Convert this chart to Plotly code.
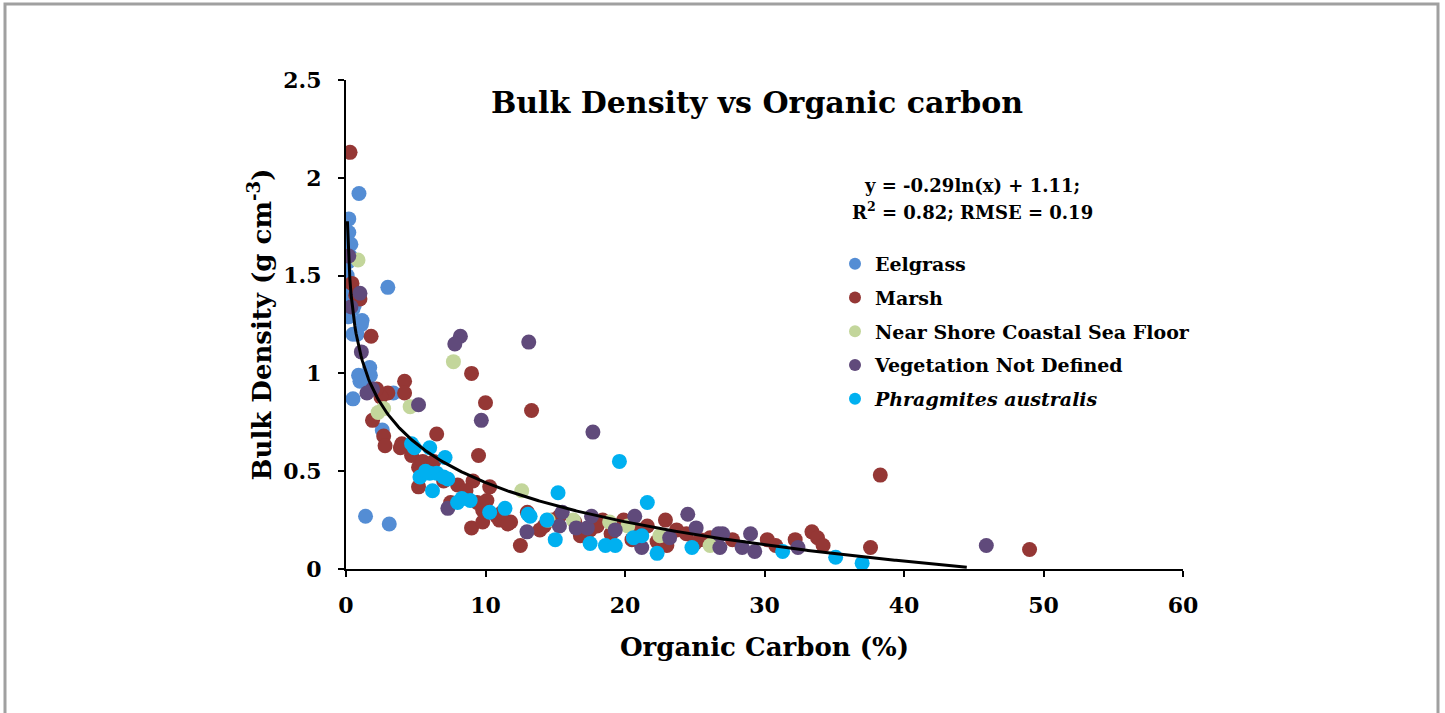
import numpy as np
import plotly.graph_objects as go

# ---------------- data ----------------
eel_x = [0.93, 0.2, 0.2, 0.35, 0.15, 0.08, 0.15, 3.0, 0.2, 1.15, 0.5, 0.8, 0.9, 1.3, 1.7,
         1.75, 0.5, 3.4, 2.6, 1.4, 3.1, 0.3, 0.5, 1.1, 0.3, 1.0, 0.6]
eel_y = [1.92, 1.79, 1.72, 1.66, 1.57, 1.50, 1.44, 1.44, 1.29, 1.27, 1.20, 1.20, 0.99, 0.97, 1.03,
         0.99, 0.87, 0.90, 0.71, 0.27, 0.23, 1.40, 1.33, 1.25, 1.60, 0.96, 1.35]

marsh_x = [0.29, 0.43, 1.0, 1.8, 4.2, 4.2, 3.0, 2.5, 1.9, 2.7, 2.8, 4.0, 4.7, 6.5, 5.2, 5.2,
           9.0, 10.0, 9.5, 9.1, 8.0, 7.5, 9.0, 10.3, 9.8, 10.8, 11.8, 12.5, 13.3, 13.0, 13.9,
           15.3, 16.4, 16.8, 18.4, 19.9, 21.6, 22.9, 23.7, 24.4, 25.4, 26.1, 27.7, 30.2, 30.8,
           32.2, 33.4, 33.8, 34.2, 37.6, 38.3, 49.0, 9.4, 10.1, 11.0, 11.6, 9.8, 8.6, 6.0, 5.5,
           7.0, 11.2, 14.2, 17.5, 19.0, 20.5, 22.3, 23.0, 25.0, 14.8, 18.0, 21.0, 2.2, 0.7,
           6.3, 3.9]
marsh_y = [2.13, 1.46, 1.38, 1.19, 0.96, 0.90, 0.90, 0.88, 0.76, 0.68, 0.63, 0.64, 0.58, 0.69,
           0.52, 0.42, 1.00, 0.85, 0.58, 0.45, 0.43, 0.34, 0.21, 0.42, 0.30, 0.27, 0.24, 0.12,
           0.81, 0.29, 0.20, 0.27, 0.24, 0.17, 0.25, 0.25, 0.22, 0.25, 0.20, 0.18, 0.15, 0.16,
           0.15, 0.15, 0.12, 0.15, 0.19, 0.16, 0.12, 0.11, 0.48, 0.10, 0.34, 0.35, 0.25, 0.23,
           0.24, 0.40, 0.50, 0.55, 0.45, 0.29, 0.22, 0.20, 0.18, 0.15, 0.14, 0.12, 0.13, 0.25,
           0.22, 0.20, 0.92, 1.40, 0.55, 0.62]

shore_x = [0.86, 2.7, 4.6, 7.7, 12.6, 16.3, 18.9, 26.1, 2.3, 14.5, 20.2, 22.5]
shore_y = [1.58, 0.82, 0.83, 1.06, 0.40, 0.25, 0.24, 0.12, 0.80, 0.25, 0.22, 0.17]

veg_x = [0.2, 1.0, 0.35, 1.1, 1.9, 5.2, 8.2, 7.8, 9.7, 7.3, 13.1, 17.7, 12.97, 15.5, 16.5,
         17.3, 17.6, 19.3, 20.7, 21.2, 23.2, 24.5, 25.1, 26.7, 27.0, 29.0, 29.3, 26.8, 28.4,
         32.4, 45.9, 15.3, 1.5]
veg_y = [1.60, 1.41, 1.34, 1.11, 0.92, 0.84, 1.19, 1.15, 0.76, 0.31, 1.16, 0.70, 0.19, 0.29,
         0.21, 0.21, 0.27, 0.20, 0.27, 0.11, 0.16, 0.28, 0.21, 0.18, 0.18, 0.18, 0.09, 0.11,
         0.11, 0.11, 0.12, 0.22, 0.90]

phrag_x = [4.7, 4.9, 6.0, 7.1, 5.3, 6.0, 6.5, 7.0, 7.3, 6.2, 8.3, 8.9, 10.3, 11.4, 13.05,
           13.2, 14.4, 15.0, 15.2, 17.5, 18.6, 19.3, 19.6, 20.6, 21.2, 21.6, 22.3, 24.8, 31.3,
           35.1, 37.0, 5.7, 8.0]
phrag_y = [0.64, 0.62, 0.62, 0.57, 0.47, 0.49, 0.49, 0.47, 0.46, 0.40, 0.36, 0.35, 0.29, 0.31,
           0.28, 0.27, 0.25, 0.15, 0.39, 0.13, 0.12, 0.12, 0.55, 0.16, 0.17, 0.34, 0.08, 0.11,
           0.09, 0.06, 0.03, 0.50, 0.34]

# fitted trend shown on the chart: y = a*ln(x) + b
fit_a = -0.29
fit_b = 1.11
fit_xmin = 0.1
fit_xmax = 44.5

series_names = ["Eelgrass", "Marsh", "Near Shore Coastal Sea Floor",
                "Vegetation Not Defined", "<i>Phragmites australis</i>"]
x_ticks = [0, 10, 20, 30, 40, 50, 60]
y_ticks = [0, 0.5, 1, 1.5, 2, 2.5]
y_tick_text = ["0", "0.5", "1", "1.5", "2", "2.5"]

# ---------------- figure ----------------
FONT = "DejaVu Serif"
colors = ["#548DD4", "#953735", "#C3D69B", "#604A7B", "#00B0F0"]
data = [(eel_x, eel_y), (marsh_x, marsh_y), (shore_x, shore_y), (veg_x, veg_y), (phrag_x, phrag_y)]

fig = go.Figure()
for (xs, ys), name, c in zip(data, series_names, colors):
    fig.add_trace(go.Scatter(x=xs, y=ys, mode="markers", name=name,
                             marker=dict(size=15, color=c, line=dict(width=0)),
                             legendgroup=name))

xf = np.linspace(fit_xmin, fit_xmax, 500)
yf = fit_a * np.log(xf) + fit_b
fig.add_trace(go.Scatter(x=xf, y=yf, mode="lines", line=dict(color="black", width=3),
                         showlegend=False, hoverinfo="skip"))

L, R, T, B = 346, 262, 80, 144
W, H = 1445, 713
pw, ph = W - L - R, H - T - B

fig.update_layout(
    width=W, height=H,
    margin=dict(l=L, r=R, t=T, b=B),
    plot_bgcolor="white", paper_bgcolor="white",
    font=dict(family=FONT, color="black"),
    title=dict(text="<b>Bulk Density vs Organic carbon</b>", x=(757 - L) / pw, xref="paper",
               xanchor="center", y=1 - 102 / H, yanchor="middle",
               font=dict(size=30, family=FONT, color="black")),
    showlegend=True,
    legend=dict(x=(835 - L) / pw, y=(H - B - 245) / ph, xanchor="left", yanchor="top",
                font=dict(size=19, family=FONT, color="black", weight="bold"),
                bgcolor="rgba(0,0,0,0)", tracegroupgap=6, traceorder="grouped",
                itemsizing="constant"),
    xaxis=dict(range=[0, 60], tickvals=x_ticks, showgrid=False, zeroline=False,
               showline=True, linecolor="black", linewidth=2, ticks="outside",
               ticklen=6, tickwidth=1.5, tickcolor="black", ticklabelstandoff=10,
               tickfont=dict(size=22, family=FONT, weight="bold"),
               title=dict(text="<b>Organic Carbon (%)</b>", font=dict(size=26, family=FONT),
                          standoff=20)),
    yaxis=dict(range=[0, 2.5], tickvals=y_ticks, ticktext=y_tick_text, showgrid=False,
               zeroline=False, showline=True, linecolor="black", linewidth=2,
               ticks="outside", ticklen=6, tickwidth=1.5, tickcolor="black",
               ticklabelstandoff=12,
               tickfont=dict(size=22, family=FONT, weight="bold"),
               title=dict(text="<b>Bulk Density (g cm<sup>-3</sup>)</b>",
                          font=dict(size=26, family=FONT), standoff=4)),
)

fig.add_annotation(x=(972 - L) / pw, y=(H - B - 185) / ph, xref="paper", yref="paper",
                   text="<b>y = -0.29ln(x) + 1.11;</b>", showarrow=False,
                   font=dict(size=18, family=FONT), xanchor="center", yanchor="middle")
fig.add_annotation(x=(972 - L) / pw, y=(H - B - 211) / ph, xref="paper", yref="paper",
                   text="<b>R<sup>2</sup> = 0.82; RMSE = 0.19</b>", showarrow=False,
                   font=dict(size=18, family=FONT), xanchor="center", yanchor="middle")

# outer grey frame
fig.add_shape(type="rect", xref="paper", yref="paper",
              x0=(5 - L) / pw, x1=(1438 - L) / pw,
              y0=(H - B - 730) / ph, y1=(H - B - 4) / ph,
              line=dict(color="#A0A0A0", width=3), fillcolor="rgba(0,0,0,0)", layer="below")

fig.write_html("out.html", config={"displayModeBar": False},
               post_script="document.body.style.margin='0';document.body.style.overflow='hidden';")
